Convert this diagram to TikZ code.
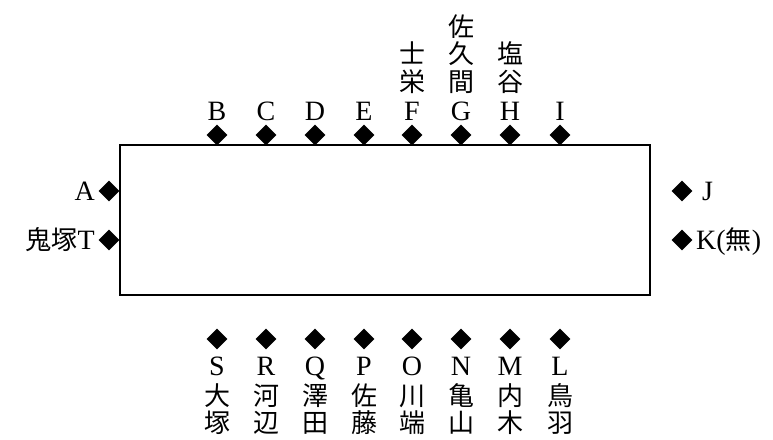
\documentclass[tikz,border=0pt]{standalone}
\usepackage{fontspec}
\setmainfont{Liberation Serif}
\newfontfamily\jp{Noto Sans CJK JP}
\usetikzlibrary{shapes.geometric}
\newcommand\jpsize{\fontsize{26}{28}\selectfont}
\begin{document}
\begin{tikzpicture}[x=1pt,y=-1pt,
  dia/.style={diamond, fill=black, draw=none, inner sep=0pt, minimum width=21pt, minimum height=21pt},
  lat/.style={inner sep=0pt, anchor=base, font=\fontsize{28}{30}\selectfont},
  jpl/.style={inner sep=0pt, anchor=base, font=\jpsize\jp},
  box/.style={draw=black, line width=1.6pt}]
\useasboundingbox (0,0) rectangle (773,439);
\draw[box] (120,145) rectangle (650,295);
% top
\foreach \x/\n in {217/B,266/C,315/D,364/E,412/F,461/G,510/H,560/I}{
  \node[dia] (d\n) at (\x,135) {};
  \node[lat] (t\n) at (\x,120) {\n};
}
\node[jpl] (F2) at (412,91) {栄};
\node[jpl] (F3) at (412,63.5) {士};
\node[jpl] (G2) at (461,91) {間};
\node[jpl] (G3) at (461,63.5) {久};
\node[jpl] (G4) at (461,36) {佐};
\node[jpl] (H2) at (510,91) {谷};
\node[jpl] (H3) at (510,63.5) {塩};
% bottom
\foreach \x/\n/\a/\b in {217/S/大/塚,266/R/河/辺,315/Q/澤/田,364/P/佐/藤,412/O/川/端,461/N/亀/山,510/M/内/木,560/L/鳥/羽}{
  \node[dia] (d\n) at (\x,339) {};
  \node[lat] (t\n) at (\x,375) {\n};
  \node[jpl] (\n2) at (\x,405.5) {\a};
  \node[jpl] (\n3) at (\x,432) {\b};
}
% left
\node[dia] (dA) at (109,191) {};
\node[lat, anchor=base east] (tA) at (95,200) {A};
\node[dia] (dT) at (109,240) {};
\node[lat, anchor=base east] (tT) at (95,249) {{\jp\jpsize 鬼塚}T};
% right
\node[dia] (dJ) at (682,191) {};
\node[lat, anchor=base west] (tJ) at (702,200) {J};
\node[dia] (dK) at (682,240) {};
\node[lat, anchor=base west] (tK) at (696,249) {K({\jp\jpsize 無})};
\end{tikzpicture}
\end{document}
